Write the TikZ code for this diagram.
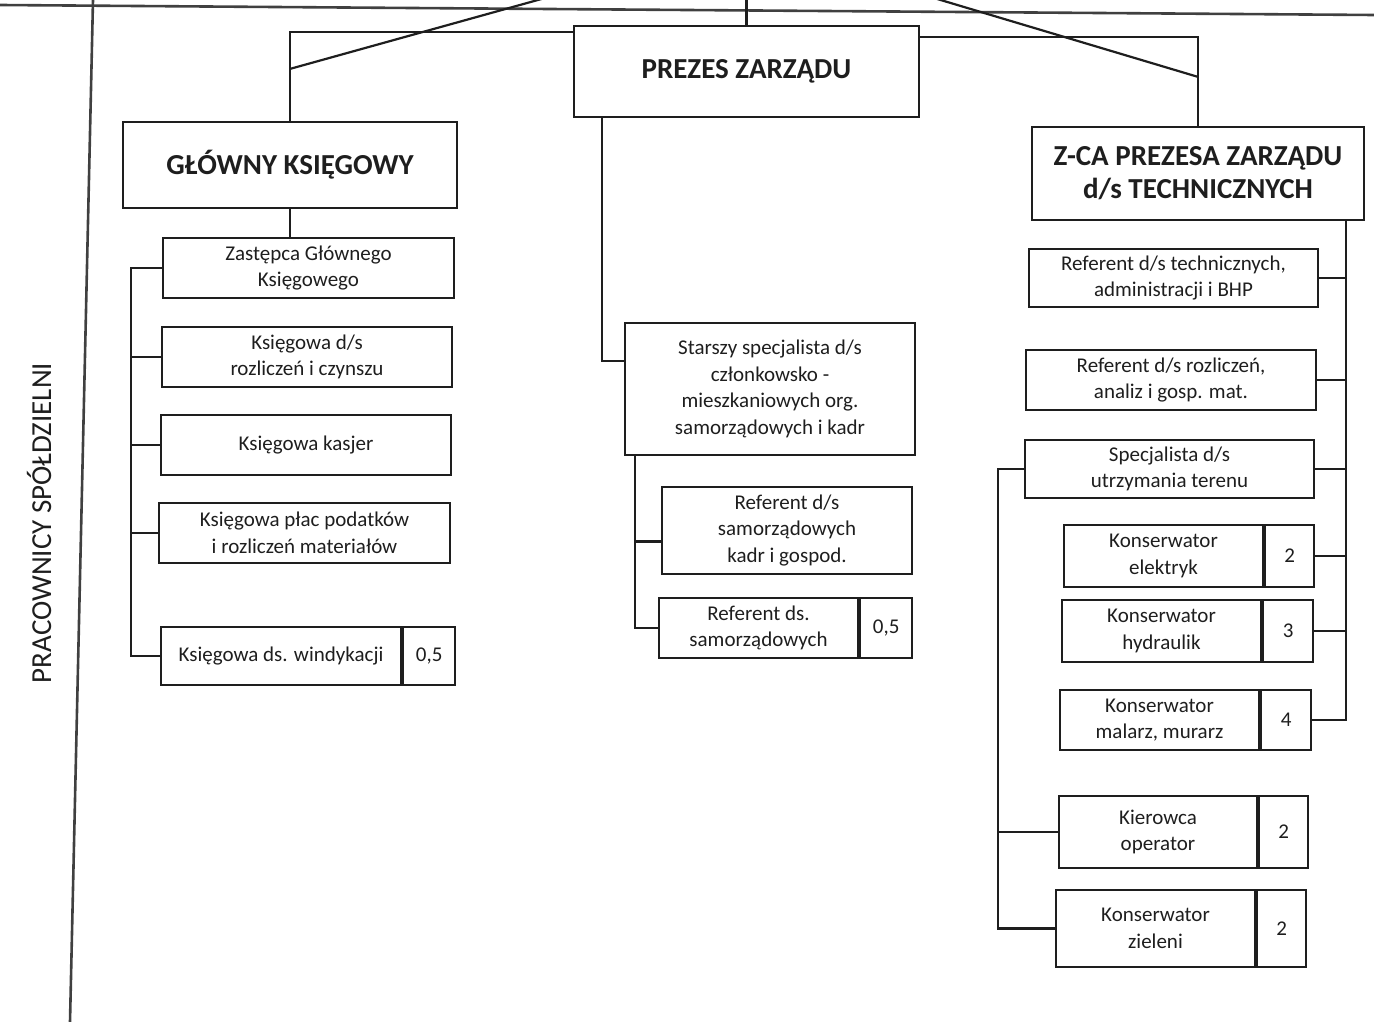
\documentclass[tikz,border=0pt]{standalone}
\usepackage{fontspec}
\setmainfont{Carlito}
\usetikzlibrary{calc}

\definecolor{ink}{RGB}{30,30,30}
\newcommand{\bodyfont}{\fontsize{21}{26.7}\selectfont}
\newcommand{\headfont}{\fontsize{29}{33}\selectfont\bfseries}
\newcommand{\sidefont}{\fontsize{29}{34}\selectfont}

\begin{document}
\begin{tikzpicture}[x=1pt, y=-1pt,
  box/.style={draw=ink, line width=2.2pt, inner sep=0pt, align=center, text=ink, font=\bodyfont},
  headbox/.style={box, font=\headfont},
  cell/.style={box, anchor=west},
  link/.style={draw=ink, line width=2.2pt},
  frame/.style={draw=ink!85, line width=2.6pt}]
  \useasboundingbox (0,0) rectangle (1374,1022);
  \clip (0,0) rectangle (1374,1022);

  % Frame lines
  \coordinate (tl) at (0,5);
  \coordinate (tr) at (1374,15);
  \coordinate (lt) at (93,0);
  \coordinate (lb) at (70,1022);
  \draw[frame] (tl) -- (tr);
  \draw[frame] (lt) -- (lb);
  \node[text=ink, font=\sidefont, rotate=90] (side) at (39,523) {PRACOWNICY SPÓŁDZIELNI};

  % Management
  \node[headbox, minimum width=345pt, minimum height=91pt] (prezes) at (746.5,71.5) {PREZES ZARZĄDU};
  \node[headbox, minimum width=334pt, minimum height=86pt] (gk) at (290,165) {GŁÓWNY KSIĘGOWY};
  \node[headbox, minimum width=332pt, minimum height=93pt] (zca) at (1198,173.5) {Z-CA PREZESA ZARZĄDU\\d/s TECHNICZNYCH};
  \coordinate (apex) at (746.5,-58);

  \draw[link] (prezes.north) -- (apex);
  \draw[link] ([yshift=-7pt]prezes.north west) -| (gk.north);
  \draw[link] ([yshift=-12pt]prezes.north east) -| (zca.north);
  \draw[link] (apex) -- ([yshift=52pt]gk.north);
  \draw[link] (apex) -- ([yshift=49pt]zca.north);

  % Accounting
  \node[box, minimum width=291pt, minimum height=60pt] (zast) at (308.5,268) {Zastępca Głównego\\Księgowego};
  \node[box, minimum width=290pt, minimum height=60pt] (kczynsz) at (307,357) {Księgowa d/s\\rozliczeń i czynszu};
  \node[box, minimum width=290pt, minimum height=60pt] (kasjer) at (306,445) {Księgowa kasjer};
  \node[box, minimum width=291pt, minimum height=60pt] (kplac) at (304.5,533) {Księgowa płac podatków\\i rozliczeń materiałów};
  \node[box, minimum width=240pt, minimum height=58pt] (kwind) at (281,656) {Księgowa ds. windykacji};
  \node[cell, minimum width=52pt, minimum height=58pt] (kwindN) at (kwind.east) {0,5};

  \coordinate (lbus) at (131,0);
  \draw[link] (gk.south) -- (gk.south |- zast.north);
  \draw[link] (zast.west) -- (zast.west -| lbus) |- (kwind.west);
  \foreach \n in {kczynsz,kasjer,kplac}
    \draw[link] (\n.west) -- (\n.west -| lbus);

  % Members and staff
  \node[box, minimum width=290pt, minimum height=132pt] (starszy) at (770,389) {Starszy specjalista d/s\\członkowsko -\\mieszkaniowych org.\\samorządowych i kadr};
  \node[box, minimum width=250pt, minimum height=87pt] (refkadr) at (787,530.5) {Referent d/s\\samorządowych\\kadr i gospod.};
  \node[box, minimum width=199pt, minimum height=60pt] (refsam) at (758.5,628) {Referent ds.\\samorządowych};
  \node[cell, minimum width=52pt, minimum height=60pt] (refsamN) at (refsam.east) {0,5};

  \coordinate (cbus) at (635,0);
  \draw[link] ([xshift=29pt]prezes.south west) |- ([yshift=-39pt]starszy.north west);
  \draw[link] (starszy.south -| cbus) |- (refsam.west);
  \draw[link] ([yshift=-11pt]refkadr.west) -- ([yshift=-11pt]refkadr.west -| cbus);

  % Technical
  \node[box, minimum width=289pt, minimum height=58pt] (reftech) at (1173.5,278) {Referent d/s technicznych,\\administracji i BHP};
  \node[box, minimum width=290pt, minimum height=60pt] (refrozl) at (1171,380) {Referent d/s rozliczeń,\\analiz i gosp. mat.};
  \node[box, minimum width=289pt, minimum height=58pt] (specj) at (1169.5,469) {Specjalista d/s\\utrzymania terenu};
  \node[box, minimum width=199pt, minimum height=62pt] (kelek) at (1163.5,556) {Konserwator\\elektryk};
  \node[cell, minimum width=49pt, minimum height=62pt] (kelekN) at (kelek.east) {2};
  \node[box, minimum width=199pt, minimum height=62pt] (khydr) at (1161.5,631) {Konserwator\\hydraulik};
  \node[cell, minimum width=50pt, minimum height=62pt] (khydrN) at (khydr.east) {3};
  \node[box, minimum width=199pt, minimum height=60pt] (kmal) at (1159.5,720) {Konserwator\\malarz, murarz};
  \node[cell, minimum width=50pt, minimum height=60pt] (kmalN) at (kmal.east) {4};
  \node[box, minimum width=198pt, minimum height=72pt] (kier) at (1158,832) {Kierowca\\operator};
  \node[cell, minimum width=49pt, minimum height=72pt] (kierN) at (kier.east) {2};
  \node[box, minimum width=199pt, minimum height=77pt] (kziel) at (1155.5,928.5) {Konserwator\\zieleni};
  \node[cell, minimum width=49pt, minimum height=77pt] (kzielN) at (kziel.east) {2};

  \coordinate (rbus) at (1346,0);
  \draw[link] (zca.south -| rbus) |- (kmalN.east);
  \foreach \n in {reftech,refrozl,specj,kelekN,khydrN}
    \draw[link] (\n.east) -- (\n.east -| rbus);

  \coordinate (sbus) at (998,0);
  \draw[link] (specj.west) -- (specj.west -| sbus) |- (kziel.west);
  \draw[link] (kier.west) -- (kier.west -| sbus);
\end{tikzpicture}
\end{document}
